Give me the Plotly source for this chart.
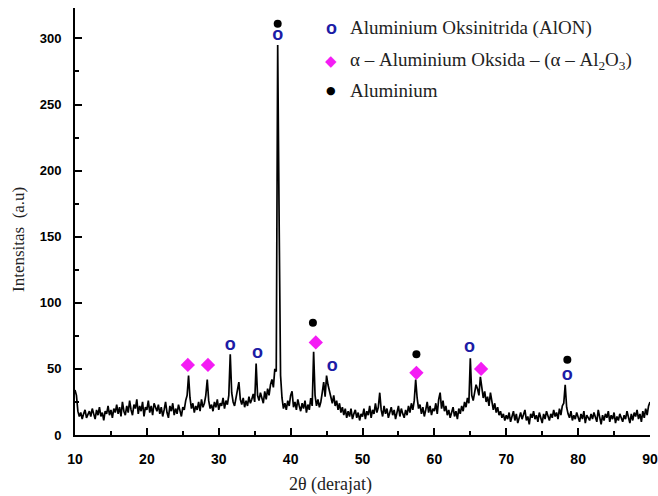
import plotly.graph_objects as go

# ---- data ----
TWO_THETA_START = 10.0
TWO_THETA_STEP = 0.2
INTENSITY = [
    34, 30, 18, 14, 17, 12, 16, 19, 13, 15,   # 10.0-11.8
    18, 14, 20, 16, 12, 19, 15, 21, 14, 17,   # 12.0-13.8
    11, 18, 16, 22, 15, 19, 13, 20, 17, 23,   # 14.0-15.8
    16, 21, 14, 25, 18, 15, 22, 17, 26, 19,   # 16.0-17.8
    15, 23, 20, 27, 16, 22, 18, 25, 14, 21,   # 18.0-19.8
    19, 26, 17, 22, 15, 24, 20, 18, 23, 16,   # 20.0-21.8
    21, 14, 19, 25, 17, 13, 22, 18, 24, 15,   # 22.0-23.8
    20, 16, 23, 18, 14, 21, 19, 26, 30, 45,   # 24.0-25.8
    28, 20, 24, 17, 22, 19, 25, 18, 27, 21,   # 26.0-27.8
    24, 30, 42, 26, 20, 23, 18, 25, 21, 27,   # 28.0-29.8
    19, 24, 22, 28, 20, 26, 23, 30, 61, 32,   # 30.0-31.8
    25, 22, 29, 36, 40, 27, 23, 28, 21, 26,   # 32.0-33.8
    22, 29, 24, 27, 31, 25, 54, 30, 26, 32,   # 34.0-35.8
    28, 24, 33, 27, 35, 30, 38, 42, 36, 50,   # 36.0-37.8
    48, 295, 162, 45, 28, 20, 24, 19, 26, 22, # 38.0-39.8
    30, 33, 21, 25, 19, 27, 22, 18, 24, 20,   # 40.0-41.8
    26, 17, 23, 19, 28, 22, 63, 30, 22, 27,   # 42.0-43.8
    21, 25, 32, 40, 29, 45, 38, 33, 28, 24,   # 44.0-45.8
    30, 22, 26, 19, 24, 17, 21, 15, 20, 13,   # 46.0-47.8
    18, 14, 20, 12, 16, 19, 13, 17, 11, 16,   # 48.0-49.8
    14, 20, 12, 18, 15, 22, 13, 19, 16, 24,   # 50.0-51.8
    17, 21, 32, 19, 14, 22, 16, 20, 13, 18,   # 52.0-53.8
    21, 15, 19, 12, 17, 22, 14, 20, 16, 13,   # 54.0-55.8
    19, 15, 22, 17, 24, 19, 26, 42, 28, 20,   # 56.0-57.8
    23, 16, 21, 14, 19, 25, 17, 22, 15, 20,   # 58.0-59.8
    18, 24, 16, 27, 32, 20, 26, 18, 22, 15,   # 60.0-61.8
    19, 13, 17, 21, 14, 18, 12, 20, 16, 22,   # 62.0-63.8
    18, 25, 21, 28, 24, 58, 30, 26, 32, 38,   # 64.0-65.8
    35, 30, 44, 36, 28, 33, 25, 29, 22, 32,   # 66.0-67.8
    26, 19, 24, 17, 21, 15, 18, 13, 16, 11,   # 68.0-69.8
    15, 12, 17, 10, 14, 18, 11, 16, 9, 14,    # 70.0-71.8
    17, 12, 15, 19, 11, 14, 8, 16, 13, 18,    # 72.0-73.8
    12, 15, 10, 17, 13, 9, 16, 12, 18, 14,    # 74.0-75.8
    11, 16, 13, 19, 14, 17, 12, 20, 15, 22,   # 76.0-77.8
    24, 38, 21, 16, 13, 18, 11, 15, 12, 17,   # 78.0-79.8
    14, 10, 16, 12, 18, 9, 15, 13, 11, 16,    # 80.0-81.8
    12, 17, 14, 10, 19, 13, 8, 15, 11, 16,    # 82.0-83.8
    13, 18, 10, 15, 12, 17, 9, 14, 11, 16,    # 84.0-85.8
    13, 10, 15, 12, 18, 14, 9, 16, 11, 17,    # 86.0-87.8
    14, 19, 12, 16, 10, 18, 13, 20, 15, 22,   # 88.0-89.8
    25,                                       # 90.0
]
TWO_THETA = [round(TWO_THETA_START + TWO_THETA_STEP * i, 2) for i in range(len(INTENSITY))]

# phase markers (2theta, intensity position)
ALON_X = [31.6, 35.4, 38.2, 45.8, 64.9, 78.5]
ALON_Y = [68, 62, 302, 52, 66, 45]
AL2O3_X = [25.7, 28.5, 43.5, 57.5, 66.5]
AL2O3_Y = [53, 53, 70, 47, 50]
AL_X = [38.2, 43.1, 57.5, 78.5]
AL_Y = [311, 85, 61, 57]

LEGEND_LABELS = [
    "Aluminium Oksinitrida (AlON)",
    "α – Aluminium Oksida – (α – Al<sub>2</sub>O<sub>3</sub>)",
    "Aluminium",
]
X_TICKS = [10, 20, 30, 40, 50, 60, 70, 80, 90]
Y_TICKS = [0, 50, 100, 150, 200, 250, 300]

BLUE = "#1c1ca6"
MAGENTA = "#f41cf4"
SERIF = "Liberation Serif, Times New Roman, serif"
SANS = "Liberation Sans, Arial, sans-serif"

fig = go.Figure()
fig.add_trace(go.Scatter(x=TWO_THETA, y=INTENSITY, mode="lines",
                         line=dict(color="black", width=1.7), showlegend=False))
fig.add_trace(go.Scatter(x=ALON_X, y=ALON_Y, mode="text", text=["o"] * len(ALON_X),
                         textfont=dict(family=SANS, size=18, color=BLUE, weight="bold"),
                         textposition="middle center", showlegend=False))
fig.add_trace(go.Scatter(x=AL2O3_X, y=AL2O3_Y, mode="markers",
                         marker=dict(symbol="diamond", size=11, color=MAGENTA), showlegend=False))
fig.add_trace(go.Scatter(x=AL_X, y=AL_Y, mode="markers",
                         marker=dict(symbol="circle", size=8, color="black"), showlegend=False))

W, H = 658, 496
ML, MR, MT, MB = 75, 8, 8, 61
pw, ph = W - ML - MR, H - MT - MB


def px(x):
    return (x - ML) / pw


def py(y):
    return 1 - (y - MT) / ph


annotations = []
# manual legend
leg_rows = [28, 61, 90]
glyphs = [("o", dict(family=SANS, size=18, color=BLUE, weight="bold")),
          ("◆", dict(family="DejaVu Sans", size=15, color=MAGENTA)),
          ("●", dict(family="DejaVu Sans", size=11, color="black"))]
for (g, f), lab, yy in zip(glyphs, LEGEND_LABELS, leg_rows):
    annotations.append(dict(x=px(331), y=py(yy), xref="paper", yref="paper", text=g,
                            showarrow=False, font=f, xanchor="center", yanchor="middle"))
    annotations.append(dict(x=px(348), y=py(yy), xref="paper", yref="paper", text=lab,
                            showarrow=False, font=dict(family=SERIF, size=19, color="#222"),
                            xanchor="left", yanchor="middle"))
# axis titles
annotations.append(dict(x=px(330), y=py(485), xref="paper", yref="paper", text="2θ (derajat)",
                        showarrow=False, font=dict(family=SERIF, size=18, color="#222"),
                        xanchor="center", yanchor="middle"))
annotations.append(dict(x=px(18), y=py(240), xref="paper", yref="paper",
                        text="Intensitas\u00a0\u00a0(a.u)",
                        showarrow=False, textangle=-90, font=dict(family=SERIF, size=17, color="#222"),
                        xanchor="center", yanchor="middle"))

fig.update_layout(
    width=W, height=H,
    margin=dict(l=ML, r=MR, t=MT, b=MB, autoexpand=False),
    plot_bgcolor="white", paper_bgcolor="white",
    showlegend=False,
    annotations=annotations,
)
fig.update_xaxes(range=[10, 90], tickvals=X_TICKS, ticks="inside", ticklen=7, tickwidth=2,
                 tickcolor="black", showline=True, linecolor="black", linewidth=2,
                 showgrid=False, zeroline=False, ticklabelstandoff=10, automargin=False,
                 ticklabeloverflow="allow",
                 tickfont=dict(family=SANS, size=14, color="black", weight="bold"),
                 minor=dict(dtick=5, ticks="inside", ticklen=4, tickwidth=2, tickcolor="black"))
fig.update_yaxes(range=[0, 323], tickvals=Y_TICKS, ticks="inside", ticklen=7, tickwidth=2,
                 tickcolor="black", showline=True, linecolor="black", linewidth=2,
                 showgrid=False, zeroline=False, ticklabelstandoff=9, automargin=False,
                 tickfont=dict(family=SANS, size=13, color="black", weight="bold"),
                 minor=dict(dtick=25, ticks="inside", ticklen=4, tickwidth=2, tickcolor="black"))

fig.write_html("out.html", config={"displayModeBar": False},
               post_script="document.body.style.margin='0';document.body.style.padding='0';")
